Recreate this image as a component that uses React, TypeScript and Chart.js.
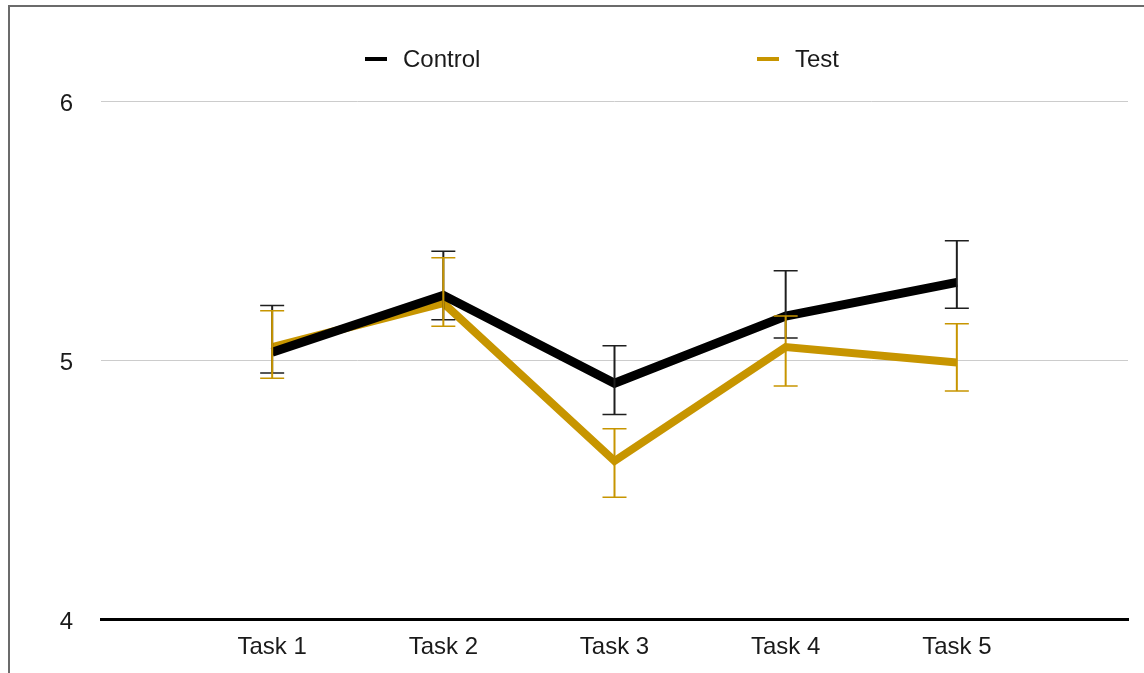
import React, { useEffect, useRef } from "react";
import { Chart, registerables } from "chart.js";

Chart.register(...registerables);

// Task categories and per-series means with error-bar bounds
const taskLabels = ["Task 1", "Task 2", "Task 3", "Task 4", "Task 5"];
const controlMeans = [5.03, 5.25, 4.91, 5.17, 5.3];
const controlLow = [4.95, 5.155, 4.79, 5.085, 5.2];
const controlHigh = [5.21, 5.42, 5.055, 5.345, 5.46];
const testMeans = [5.05, 5.22, 4.61, 5.05, 4.99];
const testLow = [4.93, 5.13, 4.47, 4.9, 4.88];
const testHigh = [5.19, 5.395, 4.735, 5.17, 5.14];
const yTicks = [4, 5, 6];

const GOLD = "#c79500";
const DARK = "#000000";
const TEXT = "#1a1a1a";
const FONT = "'Liberation Sans', Arial, Helvetica, sans-serif";

// pad the category axis with blank slots on each side
const axisLabels = ["", ...taskLabels, ""];
const padSeries = (vals: number[]) => [null, ...vals, null];

const seriesBounds = [
  { low: controlLow, high: controlHigh, color: "#1f1f1f" },
  { low: testLow, high: testHigh, color: GOLD },
];

const errorBarPlugin = {
  id: "errorBars",
  afterDatasetsDraw(chart: any) {
    const { ctx, scales } = chart;
    const xs = scales.x;
    const ys = scales.y;
    ctx.save();
    seriesBounds.forEach((s) => {
      ctx.strokeStyle = s.color;
      s.low.forEach((lo, i) => {
        const x = xs.getPixelForValue(i + 1);
        const yLo = ys.getPixelForValue(lo);
        const yHi = ys.getPixelForValue(s.high[i]);
        ctx.lineWidth = 2;
        ctx.beginPath();
        ctx.moveTo(x, yLo);
        ctx.lineTo(x, yHi);
        ctx.stroke();
        ctx.lineWidth = 1.5;
        ctx.beginPath();
        ctx.moveTo(x - 12, yLo);
        ctx.lineTo(x + 12, yLo);
        ctx.moveTo(x - 12, yHi);
        ctx.lineTo(x + 12, yHi);
        ctx.stroke();
      });
    });
    ctx.restore();
  },
};

const legendItems = [
  { text: "Control", color: DARK, x: 365 },
  { text: "Test", color: GOLD, x: 757 },
];

const topLegendPlugin = {
  id: "topLegend",
  afterDraw(chart: any) {
    const { ctx } = chart;
    ctx.save();
    const y = 60;
    legendItems.forEach((item) => {
      ctx.fillStyle = item.color;
      ctx.fillRect(item.x, y - 3, 22, 4);
      ctx.fillStyle = TEXT;
      ctx.font = `24px ${FONT}`;
      ctx.textAlign = "left";
      ctx.textBaseline = "middle";
      ctx.fillText(item.text, item.x + 38, y);
    });
    ctx.restore();
  },
};

export default function App() {
  const canvasRef = useRef<HTMLCanvasElement | null>(null);

  useEffect(() => {
    if (!canvasRef.current) return;
    const chart = new Chart(canvasRef.current, {
      type: "line",
      data: {
        labels: axisLabels,
        datasets: [
          {
            label: "Control",
            data: padSeries(controlMeans),
            borderColor: DARK,
            borderWidth: 9,
            pointRadius: 0,
            tension: 0,
            borderJoinStyle: "miter",
          },
          {
            label: "Test",
            data: padSeries(testMeans),
            borderColor: GOLD,
            borderWidth: 8,
            pointRadius: 0,
            tension: 0,
            borderJoinStyle: "miter",
          },
        ],
      },
      options: {
        animation: false,
        responsive: false,
        layout: { padding: { left: 0, right: 16, top: 101, bottom: 0 } },
        plugins: {
          legend: { display: false },
          tooltip: { enabled: false },
        },
        scales: {
          x: {
            offset: false,
            grid: { display: false, drawTicks: false },
            border: { display: true, color: "#000", width: 3 },
            ticks: {
              autoSkip: false,
              maxRotation: 0,
              padding: 14,
              color: TEXT,
              font: { size: 24, family: FONT },
            },
            afterFit: (scale: any) => {
              scale.height = 54;
            },
          },
          y: {
            min: 4,
            max: 6,
            afterBuildTicks: (scale: any) => {
              scale.ticks = yTicks.map((v) => ({ value: v }));
            },
            grid: {
              drawTicks: false,
              color: "#cccccc",
              lineWidth: 1,
            },
            border: { display: false },
            ticks: {
              padding: 28,
              labelOffset: 3,
              color: TEXT,
              font: { size: 24, family: FONT },
            },
            afterFit: (scale: any) => {
              scale.width = 101;
            },
          },
        },
      },
      plugins: [errorBarPlugin, topLegendPlugin],
    });
    return () => chart.destroy();
  }, []);

  return (
    <div style={{ position: "fixed", inset: 0, overflow: "hidden", background: "#fff" }}>
      <div
        style={{
          position: "absolute",
          left: 8,
          top: 5,
          width: 1200,
          height: 720,
          border: "2px solid #6b6b6b",
          boxSizing: "border-box",
        }}
      />
      <canvas
        ref={canvasRef}
        width={1144}
        height={673}
        style={{ position: "absolute", left: 0, top: 0, width: 1144, height: 673 }}
      />
    </div>
  );
}
